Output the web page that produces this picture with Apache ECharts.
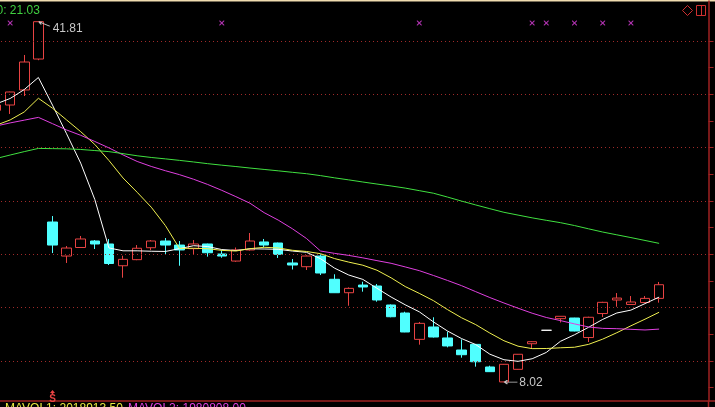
<!DOCTYPE html>
<html><head><meta charset="utf-8">
<script src="https://cdn.jsdelivr.net/npm/echarts@6/dist/echarts.min.js"></script>
<style>html,body{margin:0;padding:0;background:#000;overflow:hidden;width:715px;height:407px;position:relative}
#c{position:absolute;left:-11px;top:0;width:726px;height:407px;}</style>
</head><body><div id="c"></div>
<script>
// ---- data ----
const categories = ['1','2','3','4','5','6','7','8','9','10','11','12','13','14','15','16','17','18','19','20',
  '21','22','23','24','25','26','27','28','29','30','31','32','33','34','35','36','37','38','39','40',
  '41','42','43','44','45','46','47','48','49','50','51'];
// [open, close, low, high]
const candles = [
  [33.5,34.0,33.3,34.2],[34.0,35.22,33.16,35.25],[35.41,38.03,34.84,38.69],[38.31,41.81,38.2,41.81],
  [23.03,20.87,20.12,23.59],[19.84,20.59,19.19,20.78],[20.64,21.44,20.6,21.72],[21.25,20.97,20.5,21.34],
  [20.97,19.14,19.0,21.44],[18.93,19.53,17.81,19.87],[19.50,20.57,19.45,20.87],[20.62,21.25,20.4,21.34],
  [21.25,20.87,19.96,21.53],[20.87,20.41,18.93,21.25],[20.53,20.97,20.03,21.34],[20.97,20.15,19.78,21.0],
  [20.03,19.84,19.68,20.4],[19.37,20.41,19.3,20.64],[20.41,21.25,20.35,22.0],[21.16,20.87,20.69,21.44],
  [21.06,20.0,19.66,21.1],[19.19,19.0,18.58,19.56],[18.84,19.84,18.53,19.9],[19.84,18.25,18.06,20.0],
  [17.66,16.40,16.38,18.13],[16.40,16.81,15.18,16.9],[17.12,16.94,16.5,17.43],[17.03,15.72,15.56,17.22],
  [15.25,14.15,14.1,15.3],[14.5,12.72,12.7,14.62],[12.03,13.53,11.53,13.66],[13.19,12.25,12.2,14.1],
  [12.16,11.41,11.28,12.75],[11.03,10.59,10.31,12.03],[11.56,9.93,9.47,11.6],[9.44,9.0,8.98,9.56],
  [8.04,9.69,8.02,9.72],[9.22,10.63,9.2,10.65],[11.62,11.81,11.22,11.85],[12.88,12.88,12.88,12.88],
  [13.97,14.19,13.61,14.2],[14.03,12.81,12.78,14.05],[12.2,14.1,11.78,14.15],[14.45,15.5,14.12,15.55],
  [15.72,15.9,15.09,16.37],[15.3,15.53,15.25,16.09],[15.48,15.87,15.45,16.09],[15.87,17.15,15.47,17.41]
];
const ma5 = [34.1,34.61,35.45,36.58,33.99,31.30,28.55,25.14,20.60,20.33,20.33,20.29,20.27,20.53,20.81,20.73,
  20.45,20.36,20.52,20.50,20.47,20.31,20.19,19.59,18.70,18.06,17.65,16.82,16.00,15.27,14.61,13.67,12.81,12.10,
  11.54,10.64,10.12,9.97,10.21,10.80,11.84,12.46,13.16,13.90,14.50,14.77,15.38,15.99];
const ma10 = [32.1,32.6,33.35,34.63,33.7,32.6,31.5,30.3,28.8,27.16,25.82,24.42,22.70,20.56,20.57,20.53,
  20.37,20.31,20.53,20.66,20.60,20.38,20.27,20.06,19.60,19.27,18.98,18.51,17.80,16.98,16.34,15.66,14.82,14.05,
  13.41,12.62,11.90,11.39,11.16,11.17,11.24,11.29,11.56,12.05,12.65,13.30,13.92,14.57];
const ma20 = [32.03,32.32,32.58,32.84,32.25,31.66,31.16,30.58,29.98,29.32,28.71,28.24,27.84,27.47,27.04,26.55,
  26.0,25.41,24.79,23.91,23.21,22.40,21.49,20.31,20.09,19.90,19.67,19.41,19.16,18.82,18.47,18.02,17.55,17.06,
  16.50,15.95,15.44,14.95,14.48,14.08,13.79,13.48,13.19,13.06,13.03,12.97,12.91,12.99];
const ma60 = [28.98,29.31,29.63,29.93,29.91,29.89,29.83,29.73,29.63,29.44,29.24,29.08,28.95,28.81,28.66,28.5,
  28.36,28.23,28.09,27.96,27.83,27.69,27.56,27.38,27.17,26.98,26.78,26.59,26.41,26.21,25.97,25.73,25.37,24.99,
  24.63,24.28,23.94,23.68,23.42,23.19,22.97,22.70,22.39,22.09,21.83,21.57,21.30,21.03];
const signalDays = [1,16,30,38,39,41,43,45];
const signalLevel = 41.69;
const gridValues = [10,15,20,25,30,35,40];
const tickValues = [7.5,10,12.5,15,17.5,20,22.5,25,27.5,30,32.5,35,37.5,40];
const highIdx = 3, highVal = 41.81;
const lowIdx = 36, lowVal = 8.02;
const sellIdx = 4, sellLevel = 7.1;
const headerText = '0: 21.03';
const volText1 = 'MAVOL1: 2018913.50';
const volText2 = 'MAVOL2: 1980808.00';

// ---- styles ----
const RED = '#e84343', CYAN = '#50ffff', AXIS = '#a02222';
const FONT = 'Liberation Sans, Arial, sans-serif';
const OX = 11; // chart canvas is shifted left by this many px

const chart = echarts.init(document.getElementById('c'), null, {renderer: 'canvas'});
const candleData = candles.map(c => {
  if (c[0] === c[1]) return {value: c, itemStyle: {borderColor: '#ffffff', borderColor0: '#ffffff', color: '#ffffff', color0: '#ffffff'}};
  return c;
});
const lineSeries = (name, data, color) => ({
  name, type: 'line', data, showSymbol: false, symbol: 'none', smooth: false, z: 5,
  lineStyle: {color, width: 1}, itemStyle: {color}, silent: true
});

chart.setOption({
  animation: false,
  backgroundColor: '#000000',
  grid: {left: 0, right: 6.5, top: 1, bottom: 6},
  xAxis: {
    type: 'category', data: categories, boundaryGap: true,
    axisLine: {show: true, lineStyle: {color: AXIS, width: 1.5}},
    axisTick: {show: false}, axisLabel: {show: false}, splitLine: {show: false}
  },
  yAxis: {
    type: 'value', position: 'right', min: 6.25, max: 43.75, scale: true,
    axisLine: {show: true, lineStyle: {color: AXIS, width: 1.5}},
    axisTick: {show: true, inside: false, length: 5, customValues: tickValues, lineStyle: {color: AXIS, width: 1}},
    axisLabel: {show: false}, splitLine: {show: false}
  },
  series: [
    {
      type: 'candlestick', data: candleData, barWidth: 10, z: 3,
      itemStyle: {color: 'transparent', color0: CYAN, borderColor: RED, borderColor0: CYAN, borderColorDoji: '#ffffff', borderWidth: 1},
      markLine: {
        silent: true, symbol: 'none', label: {show: false},
        lineStyle: {color: '#a02a2a', type: [1, 3], width: 1},
        data: gridValues.map(v => ({yAxis: v}))
      },
      markPoint: {
        silent: true,
        data: [
          {coord: [categories[highIdx], highVal], symbol: 'path://M0,0L11,4.5M0,0L3.5,0.3M0,0L2.2,2.8',
           symbolSize: [11, 4.5], symbolOffset: [6, 2.25],
           itemStyle: {color: 'transparent', borderColor: '#c8c8c8', borderWidth: 1},
           label: {show: true, position: 'right', distance: 2, offset: [0, 5], formatter: String(highVal),
                   color: '#c8c8c8', fontSize: 12, fontFamily: FONT}},
          {coord: [categories[lowIdx], lowVal], symbol: 'path://M0,2L13,2M0,2L3,0M0,2L3,4',
           symbolSize: [13, 4], symbolOffset: [7, 0],
           itemStyle: {color: 'transparent', borderColor: '#c8c8c8', borderWidth: 1},
           label: {show: true, position: 'right', distance: 1, offset: [0, 1], formatter: lowVal.toFixed(2),
                   color: '#c8c8c8', fontSize: 12, fontFamily: FONT}},
          {coord: [categories[sellIdx], sellLevel], symbol: 'path://M3,0L6,3L4,3L4,4L2,4L2,3L0,3Z',
           symbolSize: [5, 4], itemStyle: {color: RED},
           label: {show: true, position: 'bottom', distance: 0, formatter: 'S', color: RED,
                   fontSize: 10, fontWeight: 'bold', fontFamily: FONT}}
        ]
      }
    },
    lineSeries('MA5', ma5, '#ffffff'),
    lineSeries('MA10', ma10, '#f0f050'),
    lineSeries('MA20', ma20, '#e040e0'),
    lineSeries('MA60', ma60, '#40e040'),
    {
      type: 'scatter', z: 6, silent: true,
      data: signalDays.map(i => [categories[i], signalLevel]),
      symbol: 'path://M0,0L1.5,0L5,3.5L8.5,0L10,0L10,1.5L6.5,5L10,8.5L10,10L8.5,10L5,6.5L1.5,10L0,10L0,8.5L3.5,5L0,1.5Z',
      symbolSize: 5, itemStyle: {color: '#e040e0'}
    }
  ],
  graphic: [
    {type: 'rect', shape: {x: 0, y: 0, width: 740, height: 1.5}, style: {fill: '#f0dcb0'}, silent: true},
    {type: 'line', shape: {x1: OX + 708, y1: 401, x2: OX + 715, y2: 401}, style: {stroke: AXIS, lineWidth: 1.5}, silent: true},
    {type: 'line', shape: {x1: OX + 708.5, y1: 401, x2: OX + 708.5, y2: 407}, style: {stroke: AXIS, lineWidth: 1.5}, silent: true},
    {type: 'text', x: OX - 3.5, y: 11, style: {text: headerText, fill: '#40d040', font: '12px ' + FONT, verticalAlign: 'middle'}, silent: true},
    {type: 'text', x: OX + 5, y: 403, style: {text: volText1, fill: '#e8e840', font: '12px ' + FONT, verticalAlign: 'top'}, silent: true},
    {type: 'text', x: OX + 128, y: 403, style: {text: volText2, fill: '#e040e0', font: '12px ' + FONT, verticalAlign: 'top'}, silent: true},
    {type: 'polygon', shape: {points: [[OX + 687.5, 5.5], [OX + 692.5, 10.5], [OX + 687.5, 15.5], [OX + 682.5, 10.5]]},
     style: {fill: 'none', stroke: '#d03030', lineWidth: 1}, silent: true},
    {type: 'rect', shape: {x: OX + 696.5, y: 5.5, width: 9, height: 10}, style: {fill: 'none', stroke: '#d03030', lineWidth: 1}, silent: true},
    {type: 'line', shape: {x1: OX + 701.5, y1: 5.5, x2: OX + 701.5, y2: 15.5}, style: {stroke: '#d03030', lineWidth: 1}, silent: true}
  ]
});
</script>
</body></html>
